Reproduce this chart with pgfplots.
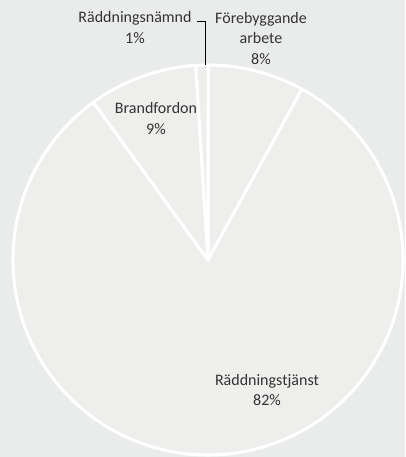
\documentclass[border=0pt]{standalone}
\usepackage{pgfplots}
\pgfplotsset{compat=1.18}
\usepackage{fontspec}
\setmainfont{Carlito}
\definecolor{bg}{HTML}{EAEBEB}
\definecolor{piefill}{HTML}{EEEEEC}
\definecolor{txt}{HTML}{333333}
\def\cx{208}\def\cy{197}\def\R{195}
% slice: start angle, value (percent)
\newcommand\slice[2]{%
  \pgfmathsetmacro\endang{#1-3.6*#2}%
  \edef\temp{\noexpand\fill[piefill, draw=white, line width=3pt, line join=round]
    (axis cs:\cx,\cy) -- ([shift={(#1:\R pt)}]axis cs:\cx,\cy)
    arc[start angle=#1, end angle=\endang, radius=\R pt] -- cycle;}%
  \temp}
\begin{document}
\begin{tikzpicture}
\begin{axis}[name=ax, x=1pt, y=1pt, xmin=0, xmax=405, ymin=0, ymax=457,
  scale only axis, hide axis, clip=false]
\fill[bg] (axis cs:0,0) rectangle (axis cs:405,457);
% values: Förebyggande arbete 8, Räddningstjänst 82, Brandfordon 9, Räddningsnämnd 1
\slice{90}{8}
\slice{61.2}{82}
\slice{-234}{9}
\slice{-266.4}{1}
\draw[white, line width=2pt] (axis cs:\cx,\cy) circle[radius=\R pt];
\draw[black, line width=1pt] (axis cs:197,435) -- (axis cs:205,435) -- (axis cs:205,392);
\tikzset{lbl/.style={align=center, text=txt, font=\fontsize{16}{20.5}\selectfont, inner sep=0pt}}
\node[lbl] at (axis cs:135,429.5) {Räddningsnämnd\\1\%};
\node[lbl] at (axis cs:261,418.5) {Förebyggande\\arbete\\8\%};
\node[lbl] at (axis cs:156,338.5) {Brandfordon\\9\%};
\node[lbl] at (axis cs:267,67) {Räddningstjänst\\82\%};
\end{axis}
\pgfresetboundingbox
\path[use as bounding box] (ax.south west) rectangle (ax.north east);
\end{tikzpicture}
\end{document}
